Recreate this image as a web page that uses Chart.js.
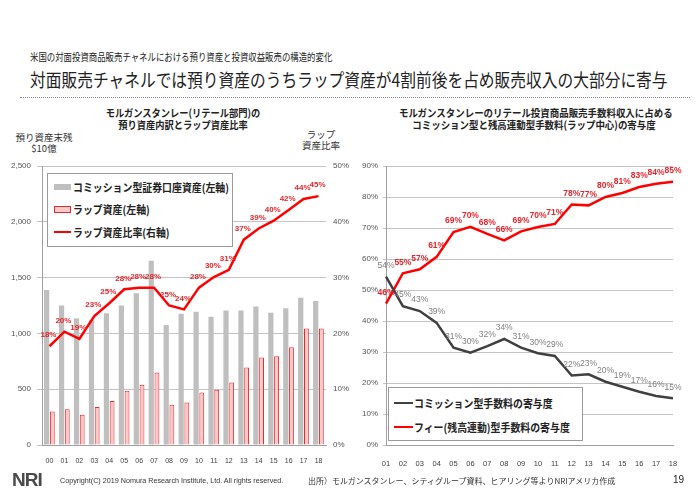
<!DOCTYPE html>
<html><head><meta charset="utf-8">
<script src="https://cdn.jsdelivr.net/npm/chart.js@4.4.1/dist/chart.umd.min.js"></script>
<style>
html,body{margin:0;padding:0;background:#fff;}
body{width:700px;height:492px;position:relative;overflow:hidden;font-family:"Noto Sans CJK JP","Noto Sans",sans-serif;color:#222;}
.abs{position:absolute;white-space:nowrap;}
.c{transform-origin:center center;}
.l{transform-origin:left center;}
canvas{position:absolute;}
.lg{position:absolute;background:#fff;border:1px solid #9a9a9a;z-index:3;}
.lgi{position:absolute;white-space:nowrap;font-weight:bold;font-size:11px;transform:scaleX(0.9);transform-origin:left center;line-height:14px;}
</style></head>
<body>
<div class="abs l" style="left:30px;top:50px;font-size:10.5px;line-height:14px;transform:scaleX(0.8);">米国の対面投資商品販売チャネルにおける預り資産と投資収益販売の構造的変化</div>
<div class="abs l" style="left:30px;top:67px;font-size:18.5px;line-height:24px;transform:scaleX(0.85);">対面販売チャネルでは預り資産のうちラップ資産が4割前後を占め販売収入の大部分に寄与</div>
<div class="abs" style="left:20px;top:97px;width:670px;border-top:1px dotted #8a8a8a;"></div>

<div class="abs c" style="left:83px;width:200px;text-align:center;top:107px;font-size:10.5px;font-weight:bold;line-height:12px;transform:scaleX(0.88);">モルガンスタンレー(リテール部門)の<br>預り資産内訳とラップ資産比率</div>
<div class="abs c" style="left:384px;width:300px;text-align:center;top:107px;font-size:10.5px;font-weight:bold;line-height:12px;transform:scaleX(0.9);">モルガンスタンレーのリテール投資商品販売手数料収入に占める<br>コミッション型と残高連動型手数料(ラップ中心)の寄与度</div>

<div class="abs c" style="left:4px;width:80px;text-align:center;top:132px;font-size:9.5px;line-height:11px;color:#333;">預り資産末残<br>$10億</div>
<div class="abs c" style="left:291px;width:60px;text-align:center;top:129px;font-size:9.5px;line-height:11px;color:#333;">ラップ<br>資産比率</div>

<canvas id="cL" width="360" height="320" style="left:0;top:150px;width:360px;height:320px;"></canvas>
<canvas id="cR" width="340" height="320" style="left:350px;top:150px;width:340px;height:320px;"></canvas>

<div class="lg" style="left:47px;top:173px;width:184px;height:72px;">
  <div style="position:absolute;left:6px;top:10px;width:17px;height:6px;background:#bfbfbf;"></div>
  <div class="lgi" style="left:25px;top:6px;">コミッション型証券口座資産(左軸)</div>
  <div style="position:absolute;left:6px;top:32px;width:15px;height:5px;background:#fcc9c9;border:1px solid #e8292b;"></div>
  <div class="lgi" style="left:25px;top:28px;">ラップ資産(左軸)</div>
  <div style="position:absolute;left:6px;top:57px;width:17px;height:2px;background:#ff0000;"></div>
  <div class="lgi" style="left:25px;top:51px;">ラップ資産比率(右軸)</div>
</div>

<div class="lg" style="left:388px;top:387px;width:193px;height:52px;">
  <div style="position:absolute;left:5px;top:14px;width:19px;height:2px;background:#404040;"></div>
  <div class="lgi" style="left:25px;top:8px;">コミッション型手数料の寄与度</div>
  <div style="position:absolute;left:5px;top:38px;width:19px;height:2px;background:#ff0000;"></div>
  <div class="lgi" style="left:25px;top:32px;">フィー(残高連動)型手数料の寄与度</div>
</div>

<div class="abs" style="left:12px;top:470px;font-family:'Liberation Sans';font-weight:bold;font-size:19px;letter-spacing:-1px;color:#4a4a4a;line-height:20px;">NRI</div>
<div class="abs" style="left:60px;top:476px;font-family:'Liberation Sans';font-size:7.2px;color:#333;line-height:10px;">Copyright(C) 2019 Nomura Research Institute, Ltd. All rights reserved.</div>
<div class="abs l" style="left:308px;top:475px;font-size:8px;color:#333;line-height:11px;">出所）モルガンスタンレー、シティグループ資料、ヒアリング等よりNRIアメリカ作成</div>
<div class="abs" style="left:673px;top:474px;font-family:'Liberation Sans';font-size:10px;color:#222;line-height:12px;">19</div>

<script>
// ---- Left chart data ----
const yearsL = ['00','01','02','03','04','05','06','07','08','09','10','11','12','13','14','15','16','17','18'];
const commissionAssets = [1390,1250,1135,1120,1180,1250,1360,1650,1075,1175,1195,1150,1205,1205,1240,1185,1225,1320,1290];
const wrapAssets = [300,320,270,340,395,485,540,650,360,380,470,495,560,695,785,795,875,1045,1045];
const wrapRatio = [17.7,20.3,19.0,23.1,25.4,27.9,28.2,28.2,25.0,24.3,28.2,30.1,31.4,36.8,38.8,40.2,42.1,44.1,44.6];
const leftTicks = [0,500,1000,1500,2000,2500];
const rightTicksL = [0,10,20,30,40,50];

// ---- Right chart data ----
const yearsR = ['01','02','03','04','05','06','07','08','09','10','11','12','13','14','15','16','17','18'];
const commissionShare = [54.3,44.8,43.2,39.4,31.4,29.8,31.9,34.2,31.4,29.6,28.7,22.4,22.8,20.4,18.8,17.2,15.8,15.1];
const feeShare = [45.6,55.4,56.7,60.7,68.7,70.4,68.1,66.0,68.9,70.3,71.3,77.6,77.3,80.0,81.3,83.2,84.3,84.9];
const ticksR = [0,10,20,30,40,50,60,70,80,90];

const pointLabels = {
  id:'pointLabels',
  afterDatasetsDraw(chart){
    const ctx = chart.ctx;
    chart.data.datasets.forEach((ds,i)=>{
      if(!ds.labelStyle) return;
      const meta = chart.getDatasetMeta(i);
      const st = ds.labelStyle;
      ctx.save();
      ctx.font = st.font; ctx.fillStyle = st.color;
      ctx.textAlign='center'; ctx.textBaseline='middle';
      meta.data.forEach((pt,j)=>{
        ctx.fillText(Math.round(ds.data[j])+'%', pt.x+(st.dx||0), pt.y+(st.dy||0));
      });
      ctx.restore();
    });
  }
};

const tickFont = {family:'Liberation Sans', size:8};

new Chart(document.getElementById('cL'), {
  data:{
    labels: yearsL,
    datasets:[
      {type:'bar', label:'コミッション型証券口座資産(左軸)', data:commissionAssets, backgroundColor:'#bfbfbf', yAxisID:'y', order:2, categoryPercentage:0.76, barPercentage:0.92},
      {type:'bar', label:'ラップ資産(左軸)', data:wrapAssets, backgroundColor:'#fcc9c9', borderColor:'#e8292b', borderWidth:1, yAxisID:'y', order:2, categoryPercentage:0.76, barPercentage:0.85},
      {type:'line', label:'ラップ資産比率(右軸)', data:wrapRatio, borderColor:'#ff0000', borderWidth:2.5, pointRadius:0, yAxisID:'y1', order:0, tension:0,
        labelStyle:{font:'bold 8px "Liberation Sans"', color:'#e2262b', dx:-1, dy:-11}}
    ]
  },
  options:{
    responsive:false, animation:false, devicePixelRatio:1,
    layout:{padding:{top:16,left:0,right:0,bottom:0}},
    plugins:{legend:{display:false}, tooltip:{enabled:false}},
    scales:{
      x:{grid:{display:false}, border:{color:'#a0a0a0'}, ticks:{font:{family:'Liberation Sans', size:7}, color:'#404040', padding:4, maxRotation:0, autoSkip:false},
        afterFit(s){s.height=25;}},
      y:{position:'left', min:0, max:2500, afterBuildTicks(s){s.ticks = leftTicks.map(v=>({value:v}));},
        ticks:{font:tickFont, color:'#555', padding:6, callback:v=>v.toLocaleString('en-US')},
        grid:{color:'#c4c4c4', tickLength:5}, border:{color:'#a0a0a0'}, afterFit(s){s.width=42;}},
      y1:{position:'right', min:0, max:50, afterBuildTicks(s){s.ticks = rightTicksL.map(v=>({value:v}));},
        ticks:{font:tickFont, color:'#555', padding:7, callback:v=>v+'%'},
        grid:{display:false, drawTicks:false}, border:{display:false}, afterFit(s){s.width=34;}}
    }
  },
  plugins:[pointLabels]
});

new Chart(document.getElementById('cR'), {
  type:'line',
  data:{
    labels: yearsR,
    datasets:[
      {label:'コミッション型手数料の寄与度', data:commissionShare, borderColor:'#404040', borderWidth:2.5, pointRadius:0, tension:0,
        labelStyle:{font:'8.5px "Liberation Sans"', color:'#808080', dx:0, dy:-11}},
      {label:'フィー(残高連動)型手数料の寄与度', data:feeShare, borderColor:'#ff0000', borderWidth:2.5, pointRadius:0, tension:0,
        labelStyle:{font:'bold 8.5px "Liberation Sans"', color:'#e2262b', dx:0, dy:-11}}
    ]
  },
  options:{
    responsive:false, animation:false, devicePixelRatio:1,
    layout:{padding:{top:16,left:0,right:17,bottom:0}},
    plugins:{legend:{display:false}, tooltip:{enabled:false}},
    scales:{
      x:{grid:{display:false}, border:{color:'#a0a0a0'}, ticks:{font:{family:'Liberation Sans', size:7.5}, color:'#404040', padding:6, maxRotation:0, autoSkip:false},
        afterFit(s){s.height=25;}},
      y:{min:0, max:90, afterBuildTicks(s){s.ticks = ticksR.map(v=>({value:v}));},
        ticks:{font:tickFont, color:'#555', padding:5, callback:v=>v+'%'},
        grid:{color:'#c4c4c4', tickLength:3}, border:{color:'#a0a0a0'}, afterFit(s){s.width=36;}}
    }
  },
  plugins:[pointLabels]
});
</script>
</body></html>
